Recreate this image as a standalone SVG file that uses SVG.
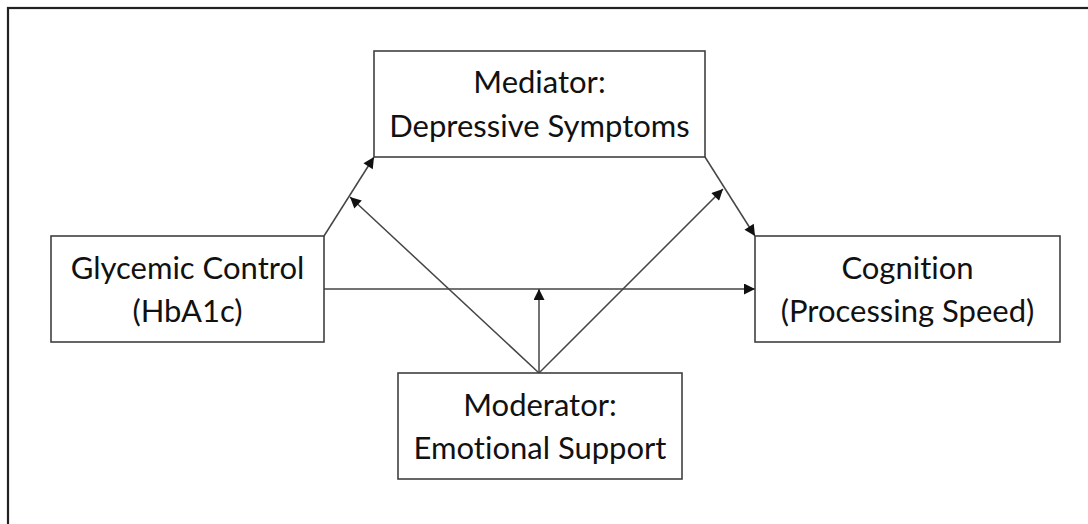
<svg xmlns="http://www.w3.org/2000/svg" width="1088" height="524" viewBox="0 0 1088 524">
  <style>
    .box { fill: #ffffff; stroke: #404040; stroke-width: 1.6; }
    .lbl { font-family: Lato, "Open Sans", "Liberation Sans", sans-serif; font-size: 31px; fill: #111111; text-anchor: middle; font-variant-ligatures: none; }
    .edge { stroke: #454545; stroke-width: 1.5; fill: none; marker-end: url(#head); }
  </style>
  <defs>
    <marker id="head" viewBox="0 0 10 10" refX="10" refY="5" markerWidth="13" markerHeight="11" markerUnits="userSpaceOnUse" orient="auto">
      <path d="M0,0 L10,5 L0,10 z" fill="#111111"/>
    </marker>
  </defs>

  <rect x="0" y="0" width="1088" height="524" fill="#ffffff"/>
  <!-- outer frame -->
  <rect x="8" y="8" width="1100" height="540" fill="none" stroke="#222222" stroke-width="2.2"/>

  <g id="connectors">
    <line class="edge" x1="324" y1="236" x2="374" y2="157"/>
    <line class="edge" x1="705" y1="157" x2="755" y2="236"/>
    <line class="edge" x1="324" y1="289" x2="755" y2="289"/>
    <line class="edge" x1="539" y1="373" x2="539" y2="289"/>
    <line class="edge" x1="539" y1="373" x2="350" y2="197"/>
    <line class="edge" x1="539" y1="373" x2="723" y2="189"/>
  </g>

  <g id="mediator">
    <rect class="box" x="374" y="51" width="331" height="106"/>
    <text class="lbl" x="539.5" y="93">Mediator:</text>
    <text class="lbl" x="539.5" y="137">Depressive Symptoms</text>
  </g>

  <g id="glycemic">
    <rect class="box" x="51" y="236" width="273" height="106"/>
    <text class="lbl" x="187.5" y="279">Glycemic Control</text>
    <text class="lbl" x="187.5" y="322">(HbA1c)</text>
  </g>

  <g id="cognition">
    <rect class="box" x="755" y="236" width="305" height="106"/>
    <text class="lbl" x="907.5" y="279">Cognition</text>
    <text class="lbl" x="907.5" y="322">(Processing Speed)</text>
  </g>

  <g id="moderator">
    <rect class="box" x="398" y="373" width="284" height="106"/>
    <text class="lbl" x="540" y="416">Moderator:</text>
    <text class="lbl" x="540" y="459">Emotional Support</text>
  </g>
</svg>
